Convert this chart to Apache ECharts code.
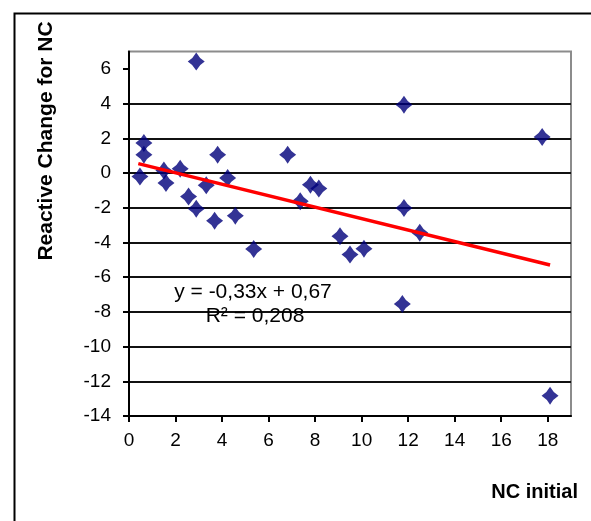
<!DOCTYPE html>
<html>
<head>
<meta charset="utf-8">
<script src="https://cdn.jsdelivr.net/npm/echarts@6/dist/echarts.min.js"></script>
<style>
  html, body { margin: 0; padding: 0; background: #fff; }
  #chart { width: 591px; height: 521px; }
</style>
</head>
<body>
<div id="chart"></div>
<script>
// ---- data ----
const ncInitial = [0.47, 0.64, 0.64, 1.5, 1.59, 2.2, 2.56, 2.89, 2.89, 3.32, 3.68, 3.81, 4.24, 4.57,
                   5.36, 6.82, 7.36, 7.8, 8.16, 9.07, 9.5, 10.1, 11.75, 11.82, 11.82, 12.5, 17.76, 18.1];
const reactiveChange = [-0.2, 1.73, 1.05, 0.15, -0.58, 0.25, -1.35, 6.43, -2.06, -0.71, -2.75, 1.05, -0.29, -2.46,
                   -4.38, 1.05, -1.63, -0.67, -0.9, -3.65, -4.7, -4.36, -7.55, 3.93, -2.02, -3.44, 2.07, -12.83];
const trendSlope = -0.33;
const trendIntercept = 0.67;
const trendX = [0.4, 18.1];
const xTicks = [0, 2, 4, 6, 8, 10, 12, 14, 16, 18];
const yTicks = [-14, -12, -10, -8, -6, -4, -2, 0, 2, 4, 6];
const equationText = 'y = -0,33x + 0,67';
const r2Text = 'R\u00B2 = 0,208';
const xTitle = 'NC initial';
const yTitle = 'Reactive Change for NC';

const points = ncInitial.map((x, i) => [x, reactiveChange[i]]);
const trendPoints = trendX.map(x => [x, trendSlope * x + trendIntercept]);

const FONT = "'Liberation Sans', Arial, sans-serif";
const chart = echarts.init(document.getElementById('chart'), null, { renderer: 'canvas' });

chart.setOption({
  backgroundColor: '#ffffff',
  animation: false,
  grid: {
    left: 129, right: 20, top: 51.5, bottom: 105,
    show: true, borderColor: '#8c8c8c', borderWidth: 2, backgroundColor: 'transparent'
  },
  xAxis: {
    type: 'value', min: 0, max: 19, interval: 2,
    axisLine: { show: true, onZero: false, lineStyle: { color: '#000', width: 2 } },
    axisTick: { show: true, inside: false, length: 6, customValues: xTicks, lineStyle: { color: '#000', width: 2 } },
    axisLabel: { customValues: xTicks, margin: 15, color: '#000', fontSize: 19, fontFamily: FONT },
    splitLine: { show: false }
  },
  yAxis: {
    type: 'value', min: -14, max: 7, interval: 2,
    axisLine: { show: true, onZero: false, lineStyle: { color: '#000', width: 2 } },
    axisTick: { show: true, inside: false, length: 6, customValues: yTicks, lineStyle: { color: '#000', width: 2 } },
    axisLabel: { customValues: yTicks, margin: 18, color: '#000', fontSize: 19, fontFamily: FONT },
    splitLine: { show: true, showMaxLine: false, lineStyle: { color: '#111', width: 2 } }
  },
  series: [
    {
      type: 'scatter',
      data: points,
      symbol: 'path://M0,-10 Q3.6,-3.6 10,0 Q3.6,3.6 0,10 Q-3.6,3.6 -10,0 Q-3.6,-3.6 0,-10Z',
      symbolSize: [17, 18],
      itemStyle: { color: '#00007a' },
      z: 3
    },
    {
      type: 'line',
      data: trendPoints,
      symbol: 'none',
      lineStyle: { color: '#ff0000', width: 3.5 },
      z: 4
    }
  ],
  graphic: [
    {
      type: 'rect', left: 12, top: 11, z: 100, silent: true,
      shape: { x: 0, y: 0, width: 700, height: 700 },
      style: { fill: 'none', stroke: '#000', lineWidth: 2 }
    },
    {
      type: 'text', x: 253, y: 292, z: 100,
      style: { text: equationText, font: '21px ' + FONT, fill: '#000', align: 'center', verticalAlign: 'middle' }
    },
    {
      type: 'text', x: 255, y: 316, z: 100,
      style: { text: r2Text, font: '21px ' + FONT, fill: '#000', align: 'center', verticalAlign: 'middle' }
    },
    {
      type: 'text', x: 578, y: 492, z: 100,
      style: { text: xTitle, font: 'bold 20px ' + FONT, fill: '#000', align: 'right', verticalAlign: 'middle' }
    },
    {
      type: 'text', x: 46, y: 141, rotation: Math.PI / 2, z: 100,
      style: { text: yTitle, font: 'bold 21px ' + FONT, fill: '#000', align: 'center', verticalAlign: 'middle' }
    }
  ]
});
</script>
</body>
</html>
